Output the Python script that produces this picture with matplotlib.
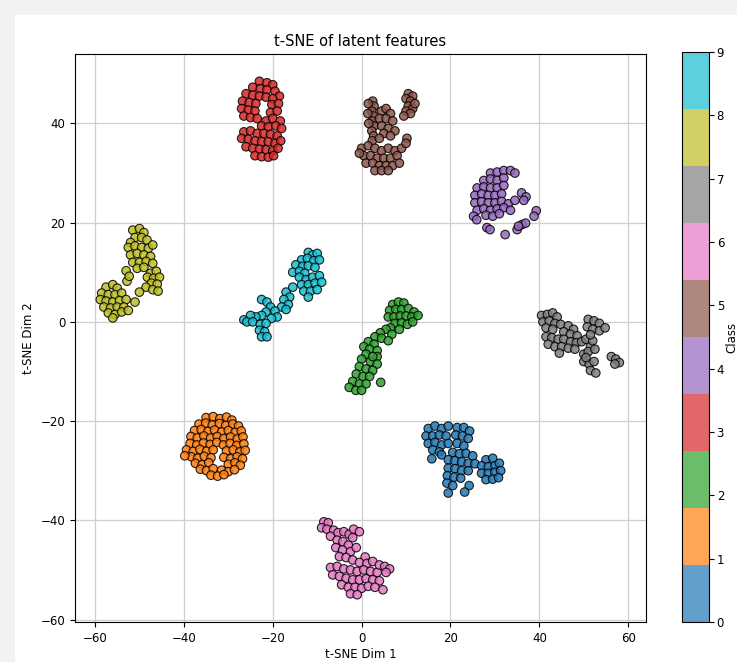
import numpy as np
import matplotlib
matplotlib.use("Agg")
import matplotlib.pyplot as plt
from matplotlib.patches import Rectangle

# t-SNE points, one list of (dim1, dim2) per class
class0 = [(15, -21.5), (16.5, -21), (18, -21.5), (19.5, -21), (14.5, -23), (16, -23), (17.5, -22.8),
          (19, -23), (15, -24.5), (16.5, -24.3), (18, -24.8), (19.5, -24.5), (16, -25.8), (17.5, -26.2),
          (21.5, -21.3), (23, -21.3), (24.3, -22), (21.2, -22.8), (22.7, -23), (24, -23.5), (21.5, -24.5),
          (23, -25), (15.8, -27.6), (18, -26.8), (20.5, -26.3), (22, -26.6), (23.5, -26.5), (25, -27),
          (19.5, -27.8), (21, -28), (22.5, -28.2), (24, -28.5), (25.5, -28.6), (19.5, -29.5), (21, -29.6),
          (22.5, -30), (24, -30), (19.3, -31), (20.8, -31.3), (22.3, -31.5), (19.2, -32.5), (20.5, -33),
          (19.5, -34.5), (24.2, -33), (23.2, -34.3), (28, -27.8), (29.5, -27.5), (27, -29), (28.5, -29.2),
          (30, -29), (31, -28.5), (27, -30.5), (28.5, -30.5), (30, -30.3), (31.3, -30), (28, -31.8),
          (29.5, -31.7), (30.8, -31.4)]
class1 = [(-35, -19.3), (-33.4, -19.1), (-31.9, -19.5), (-30.4, -19.2), (-29.2, -19.8),
          (-36.6, -20.6), (-35.1, -20.4), (-33.6, -20.8), (-32, -20.5), (-30.6, -20.9), (-29, -20.6),
          (-27.7, -21), (-37.6, -21.9), (-36.1, -21.7), (-34.6, -22.1), (-33.1, -21.8), (-31.5, -22.2),
          (-30, -21.9), (-28.5, -22.3), (-27.1, -22), (-38.4, -23.1), (-37, -23.4), (-35.5, -23),
          (-34, -23.4), (-32.5, -23.1), (-31, -23.5), (-29.5, -23.2), (-28, -23.6), (-26.7, -23.2),
          (-38.6, -24.5), (-37.1, -24.8), (-35.6, -24.4), (-34.1, -24.7), (-32.6, -24.3), (-31.1, -24.8),
          (-29.6, -24.5), (-28.1, -24.9), (-26.5, -24.6), (-39.4, -25.8), (-37.9, -26.1), (-36.4, -25.7),
          (-34.9, -26.1), (-33.4, -25.8), (-30.4, -26), (-28.9, -25.8), (-27.4, -26.2), (-26.2, -25.9),
          (-38.3, -27.2), (-36.9, -27.5), (-35.4, -27.1), (-33.9, -27.4), (-31, -27.3), (-29.5, -27.6),
          (-28, -27.2), (-26.8, -27.6), (-37.4, -28.5), (-35.9, -28.8), (-34.4, -28.4), (-30, -28.7),
          (-28.5, -28.4), (-27.3, -28.9), (-36.3, -29.7), (-34.9, -30), (-33.4, -29.6), (-31.5, -29.9),
          (-30, -30.2), (-28.6, -29.8), (-33.9, -30.9), (-32.4, -31.1), (-31, -30.8), (-39.8, -27)]
class2 = [(7, 3.5), (8.3, 4), (9.5, 3.8), (6.3, 2.3), (7.7, 2.5), (9, 2.5), (10.5, 2.7), (11.8, 2),
          (6, 1), (7.3, 1), (8.7, 1.2), (10, 1.2), (11.3, 1), (12.7, 1.3), (7.5, -0.3), (9, -0.2),
          (10.3, -0.5), (11.5, 0), (6.5, -1.2), (8.5, -1.5), (5.5, -1.5), (4.2, -2.2), (6.8, -2.5),
          (3, -3), (4.5, -3.3), (6, -3.8), (1.5, -4), (2.8, -4.5), (0.5, -5), (1.8, -5.5), (3.5, -5.8),
          (1, -6.5), (3.5, -7), (0, -7.5), (2, -8), (3.5, -8.5), (-0.5, -9), (1, -9.5), (2.5, -9.8),
          (-1.2, -10.5), (0.3, -11), (1.8, -11), (-2, -12), (-0.5, -12.5), (1, -12.5), (-2.8, -13.2),
          (-1.3, -13.8), (0, -13.8), (4.3, -12.2), (2.5, -7)]
class3 = [(-23, 48.5), (-21.3, 48.2), (-20, 47.8), (-24.5, 47.3), (-22.8, 47), (-21.3, 46.8),
          (-19.5, 46.5), (-18.5, 45.5), (-26, 46), (-24.5, 45.7), (-23, 45.5), (-21.5, 45.3), (-20, 45),
          (-26.8, 44.5), (-25.3, 44.2), (-23.8, 44), (-20.2, 43.8), (-18.7, 44), (-27, 43), (-25.5, 42.7),
          (-24, 42.5), (-20.5, 42.2), (-19, 42.5), (-26.5, 41.5), (-25, 41.2), (-23.5, 41), (-21.5, 40.5),
          (-20, 41), (-18.3, 40.5), (-22.5, 39.5), (-21, 39.3), (-19.3, 39.5), (-18, 39), (-26.5, 38.3),
          (-25, 38.5), (-23.5, 38), (-22, 38), (-20.5, 37.8), (-19, 37.5), (-27, 37), (-25.5, 36.8),
          (-24, 36.5), (-22.5, 36.3), (-21, 36.3), (-19.5, 36), (-18.2, 36.5), (-26, 35.3), (-24.5, 35),
          (-23, 34.8), (-21.5, 34.7), (-20, 34.5), (-18.8, 35), (-24, 33.5), (-22.5, 33.3), (-21, 33.2),
          (-19.8, 33.5)]
class4 = [(29, 30), (30.5, 30.2), (32, 30.5), (33.5, 30.5), (34.5, 30), (27.5, 28.5), (29, 28.8),
          (30.5, 28.5), (32, 29), (26, 27), (27.5, 27.2), (29, 27), (30.5, 27), (32, 27.5), (25.5, 25.5),
          (27, 25.8), (28.5, 25.5), (30, 25.5), (31.5, 25.8), (25.5, 24), (27, 24.2), (28.5, 24), (30, 24),
          (31.5, 24.3), (33, 23.8), (34.5, 24.5), (26, 22.5), (27.5, 22.8), (29, 22.5), (30.5, 22.8),
          (32, 23), (33.5, 22.5), (28, 21.5), (29.5, 21.3), (31, 21.8), (36, 26), (37, 25.2), (36.5, 24.5),
          (39.3, 22.4), (38.8, 21.3), (25.2, 21.3), (25.9, 20.6), (28.2, 19), (28.9, 18.6), (32.3, 17.6),
          (35, 18.6), (36.1, 19.6), (36.9, 19.9), (35.3, 19.3)]
class5 = [(2.5, 44.5), (2.8, 43.5), (2.3, 42.5), (2.7, 41.5), (2.4, 40.5), (2.8, 39.5), (2.3, 38.5),
          (2.7, 37.5), (2.4, 36.5), (1.5, 44), (1.4, 42), (1.6, 40), (4.5, 42.5), (5.5, 43), (6.5, 42),
          (4, 41), (5.5, 41), (7, 40.5), (4.5, 39.5), (6, 39), (7.5, 38.5), (5, 38), (6.5, 37.5), (4, 37),
          (0, 35), (1.5, 35.5), (3, 35), (4.5, 34.5), (6, 35), (7.5, 34.5), (9, 35), (0.5, 33.5), (2, 33.5),
          (3.5, 33), (5, 33), (6.5, 33), (8, 33.5), (1, 32), (2.5, 32), (4, 31.5), (5.5, 31.5), (7, 31.5),
          (8.5, 32), (3, 30.5), (4.5, 30.5), (6, 30.5), (-0.5, 34), (10.5, 46), (11.5, 45.5), (10, 45),
          (11, 44.5), (10.5, 43.5), (11.5, 43), (10, 42.5), (11, 42), (9.5, 41.5), (12, 44), (10.2, 37),
          (10, 36)]
class6 = [(-8.5, -40.3), (-7.5, -40.5), (-9, -41.5), (-7.8, -41.8), (-6.3, -42), (-7, -43.2),
          (-5.3, -42.5), (-4, -42.3), (-2.8, -42.8), (-1.8, -41.8), (-0.5, -42.3), (-2, -43.5),
          (-5.5, -44), (-4.2, -44.3), (-3, -45), (-5.8, -45.5), (-4.3, -46), (-2.5, -46.3), (-1.2, -45.5),
          (0.8, -47.4), (-5, -47.3), (-3.5, -47.5), (-2, -48), (-0.5, -48.5), (1.2, -48.7), (2.5, -48.3),
          (-7, -49.5), (-5.5, -49.3), (-4, -49.8), (-2.5, -50), (-1, -50.3), (0.5, -50), (2, -50.3),
          (3.5, -50.5), (4, -49), (5.2, -49.3), (6.3, -49.8), (5.5, -50.5), (-6.5, -51), (-5, -51.3),
          (-3.5, -51.7), (-2, -52), (-0.5, -52), (1, -51.8), (2.5, -52), (4, -52.2), (-4.5, -53),
          (-3, -53.5), (-1.5, -53.5), (0, -53.7), (1.5, -53.3), (3, -53.5), (-2.5, -54.8), (-1, -55),
          (4.8, -54)]
class7 = [(40.5, 1.3), (41.8, 1.5), (43, 1.8), (44, 1), (40.8, 0), (42.2, 0.2), (43.5, -0.3),
          (44.8, -0.5), (41.5, -1.2), (43, -1.5), (46.5, -0.8), (47.7, -1.5), (45.5, -2), (47, -2.5),
          (48.5, -2.8), (41.5, -3), (42.8, -3.2), (44.2, -3.5), (45.5, -3.5), (47, -4), (48.3, -4.2),
          (49.5, -4), (42, -4.5), (43.5, -5), (45, -5), (46.5, -5.3), (48, -5.5), (44.5, -6.3),
          (50.5, -3.5), (51.5, -5), (52, -3.8), (51, 0.5), (52.3, 0.2), (53.5, -0.3), (50.8, -1),
          (52, -1.5), (53.5, -1.8), (54.8, -1.2), (51.5, -2.6), (50, -6.5), (51, -6), (50, -8),
          (51.2, -8.5), (52.3, -8), (51.5, -9.8), (52.7, -10.3), (50.5, -7.2), (52.5, -5.5),
          (56.2, -7), (57.2, -7.5), (58, -8.2), (57, -8.5)]
class8 = [(-51.5, 18.5), (-50, 18.8), (-49, 18), (-51, 17), (-49.5, 17), (-48.3, 16.5), (-52, 16),
          (-52.5, 15), (-51, 15.3), (-49.5, 15), (-48, 14.8), (-47, 15.5), (-52, 13.5), (-50.5, 13.8),
          (-49, 13.5), (-47.5, 13.2), (-51.5, 12), (-50, 12), (-48.5, 12.2), (-47, 11.8), (-50.5, 10.8),
          (-49, 11), (-47.5, 9.8), (-46.2, 10.2), (-48.2, 9), (-46.8, 8.8), (-45.5, 9), (-47.3, 7.8),
          (-46, 7.6), (-48.5, 7), (-47, 6.5), (-45.8, 6.2), (-53, 10.3), (-52.8, 8.2), (-52.3, 9.2),
          (-51, 4), (-50, 6), (-57.5, 7), (-56, 7.5), (-55, 6.8), (-58.5, 5.8), (-57, 5.5), (-55.5, 5.5),
          (-54, 5.8), (-58.8, 4.5), (-57.5, 4.2), (-56, 4), (-54.5, 4.3), (-53, 4.5), (-58, 3),
          (-56.5, 2.8), (-55, 3), (-53.5, 3), (-57, 1.8), (-55.5, 1.5), (-54, 2), (-52.5, 2.3), (-56, 0.8)]
class9 = [(-12, 14), (-11, 13.5), (-10, 13.8), (-13.5, 12.5), (-12.2, 12.8), (-10.8, 12.3),
          (-9.5, 12.5), (-14.8, 11.5), (-13.3, 11.2), (-12, 11.3), (-10.5, 11), (-15.5, 10), (-14, 10.2),
          (-12.8, 9.8), (-14, 9), (-12.5, 8.5), (-11, 9), (-9.5, 9.3), (-13.5, 7.5), (-12, 7.5),
          (-10.5, 7.8), (-9, 8), (-13, 6.2), (-11.5, 6.2), (-10, 6.5), (-12, 5), (-17, 6), (-16.2, 5),
          (-17.5, 4.5), (-16.5, 3.5), (-18, 3), (-17, 2.5), (-15.5, 7), (-22.5, 4.5), (-21.3, 4),
          (-20.5, 3), (-19.5, 2.2), (-19, 1), (-21.5, 2), (-22.5, 1.3), (-20.3, 0.7), (-23.8, 1),
          (-25, 1.3), (-26.5, 0.4), (-25.8, 0), (-24.5, 0), (-22.8, -0.5), (-21.5, -0.3), (-23, -1.7),
          (-21.8, -2), (-22.5, -3), (-21.3, -3)]

classes = [class0, class1, class2, class3, class4, class5, class6, class7, class8, class9]
x_ticks = [-60, -40, -20, 0, 20, 40, 60]
y_ticks = [-60, -40, -20, 0, 20, 40]

pts = np.array([p for c in classes for p in c])
labels = np.array([i for i, c in enumerate(classes) for _ in c])

fig = plt.figure(figsize=(7.37, 6.62), dpi=100, facecolor='#f2f2f2')
# white notebook cell behind the plot
fig.add_artist(Rectangle((15 / 737, 0), 1, 647 / 662, transform=fig.transFigure,
                         facecolor='white', edgecolor='none', zorder=-10))

ax = fig.add_axes([75 / 737, 40 / 662, 571 / 737, 568 / 662])
cax = fig.add_axes([682 / 737, 40 / 662, 27 / 737, 570 / 662])

sc = ax.scatter(pts[:, 0], pts[:, 1], c=labels, cmap='tab10', vmin=0, vmax=9,
                s=38, alpha=0.85, edgecolors='k', linewidths=0.8)
ax.set_xlim(-64.5, 64)
ax.set_ylim(-60.5, 54)
ax.set_xticks(x_ticks)
ax.set_yticks(y_ticks)
ax.tick_params(labelsize=8.5)
ax.grid(True, color='#cfcfcf', linewidth=0.9)
ax.set_axisbelow(True)
ax.set_title('t-SNE of latent features', fontsize=10.5)
ax.set_xlabel('t-SNE Dim 1', fontsize=8.5, labelpad=2)
ax.set_ylabel('t-SNE Dim 2', fontsize=8.5)

cbar = fig.colorbar(sc, cax=cax, ticks=range(10))
cbar.solids.set_alpha(0.7)
cbar.ax.tick_params(labelsize=8.5, pad=2)
cbar.set_label('Class', fontsize=8.5, labelpad=1)

fig.savefig('out.png', dpi=100, facecolor=fig.get_facecolor())
